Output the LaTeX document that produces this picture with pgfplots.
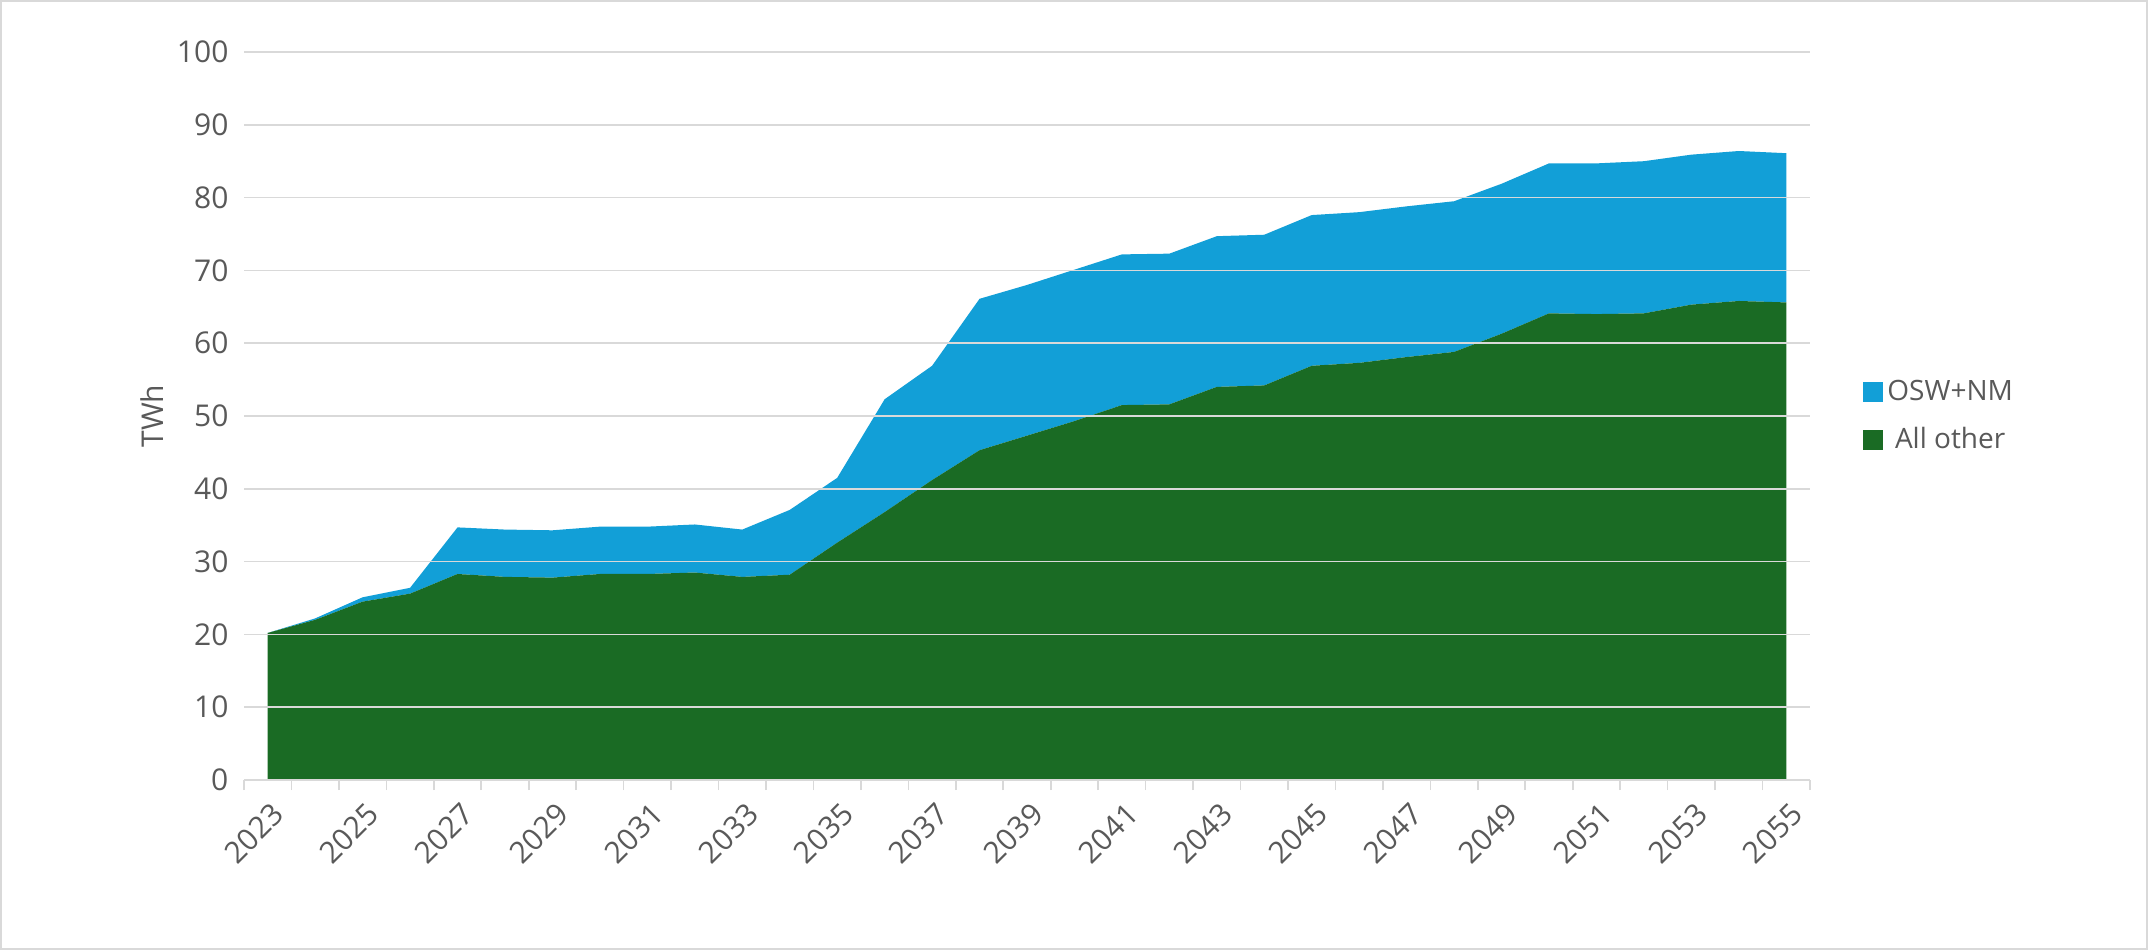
\documentclass[border=0pt]{standalone}
\usepackage{pgfplots}
\pgfplotsset{compat=1.18}
\usepackage{fontspec}
\setmainfont{Open Sans}
\definecolor{cg}{HTML}{1A6B24}
\definecolor{cb}{HTML}{129FD7}
\definecolor{gr}{HTML}{D9D9D9}
\begin{document}
\begin{tikzpicture}[x=1pt,y=1pt]
\path[use as bounding box] (0,0) rectangle (1074,475);
\draw[gr,line width=0.8pt] (0.5,0.5) rectangle (1073.5,474.5);
\begin{axis}[at={(122pt,85pt)},anchor=south west,width=783pt,height=364pt,scale only axis,
 xmin=-0.5,xmax=32.5,ymin=0,ymax=100,ytick={0,10,...,100},
 xtick={0,2,...,32},xticklabels={2023,2025,2027,2029,2031,2033,2035,2037,2039,2041,2043,2045,2047,2049,2051,2053,2055},
 minor xtick={-0.5,0.5,...,32.5},
 major x tick style={draw=none},minor x tick style={gr,line width=0.8pt},
 tick align=outside,minor tick length=5pt,
 xticklabel style={rotate=45,anchor=north east,font=\fontsize{15}{15}\selectfont,text=black!65,yshift=-2pt},
 yticklabel style={font=\fontsize{15}{15}\selectfont,text=black!65},
 /pgf/number format/assume math mode=true,
 ymajorgrids,grid style={gr,line width=0.8pt},major y tick style={draw=none},
 axis y line*=left,axis x line*=bottom,y axis line style={draw=none},x axis line style={gr,line width=0.8pt},
 ylabel={TWh},ylabel style={font=\fontsize{15}{15}\selectfont,text=black!65},
 stack plots=y,area style,
 legend style={at={(1.03,0.5)},anchor=west,draw=none,font=\fontsize{14}{14}\selectfont,text=black!65,row sep=8pt},
 legend image code/.code={\fill[#1] (0,-5pt) rectangle (10pt,5pt);},
 reverse legend]
\addplot[fill=cg,draw=none] coordinates {(0,20.2)(1,22)(2,24.5)(3,25.6)(4,28.3)(5,27.9)(6,27.8)(7,28.3)(8,28.3)(9,28.5)(10,27.9)(11,28.2)(12,32.6)(13,36.8)(14,41.2)(15,45.3)(16,47.3)(17,49.3)(18,51.5)(19,51.6)(20,54)(21,54.2)(22,56.9)(23,57.3)(24,58.1)(25,58.8)(26,61.3)(27,64.1)(28,64)(29,64.1)(30,65.3)(31,65.8)(32,65.6)} \closedcycle;
\addlegendentry{All other}
\addplot[fill=cb,draw=none] coordinates {(0,0)(1,0.2)(2,0.6)(3,0.8)(4,6.4)(5,6.5)(6,6.5)(7,6.5)(8,6.5)(9,6.6)(10,6.5)(11,8.9)(12,8.9)(13,15.5)(14,15.7)(15,20.8)(16,20.7)(17,20.8)(18,20.7)(19,20.7)(20,20.7)(21,20.7)(22,20.7)(23,20.7)(24,20.7)(25,20.7)(26,20.6)(27,20.6)(28,20.7)(29,20.9)(30,20.6)(31,20.6)(32,20.5)} \closedcycle;
\addlegendentry{OSW+NM}
\end{axis}
\end{tikzpicture}
\end{document}
